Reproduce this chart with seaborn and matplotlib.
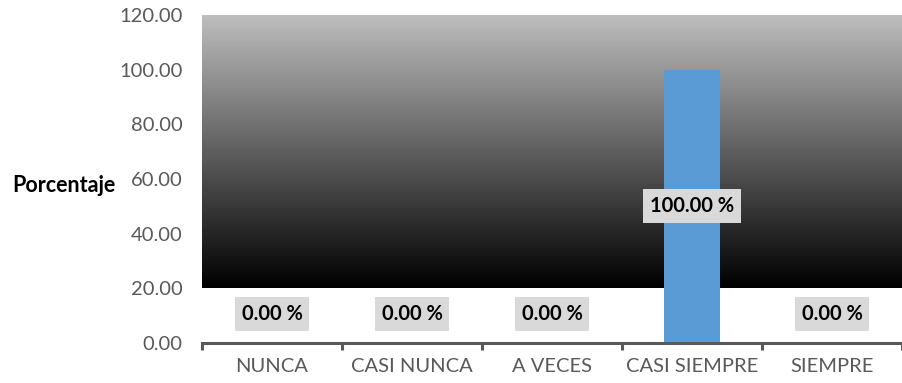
import numpy as np
import pandas as pd
import matplotlib
matplotlib.use("Agg")
import matplotlib.pyplot as plt
from matplotlib.colors import LinearSegmentedColormap
import seaborn as sns

categorias = ["NUNCA", "CASI NUNCA", "A VECES", "CASI SIEMPRE", "SIEMPRE"]
porcentajes = [0.0, 0.0, 0.0, 100.0, 0.0]
ticks_y = [0, 20, 40, 60, 80, 100, 120]

sns.set_theme(style="white")
plt.rcParams["font.family"] = ["Lato", "DejaVu Sans"]

df = pd.DataFrame({"categoria": categorias, "porcentaje": porcentajes})

fig = plt.figure(figsize=(9.03, 3.83), dpi=100)
ax = fig.add_axes([202 / 903, 1 - 343 / 383, 700 / 903, 328 / 383])
ax.set_facecolor("white")

sns.barplot(data=df, x="categoria", y="porcentaje", color="#5B9BD5",
            width=0.4, saturation=1, linewidth=0, ax=ax, zorder=3)

# gradient backdrop from 20 up to 120
grad = np.linspace(0, 1, 256).reshape(-1, 1)
cmap = LinearSegmentedColormap.from_list("fondo", ["#000000", "#BEBEBE"])
ax.imshow(grad, cmap=cmap, origin="lower", aspect="auto",
          extent=[-0.5, 4.5, 20, 120], zorder=0)

ax.set_xlim(-0.5, 4.5)
ax.set_ylim(0, 120)
ax.set_yticks(ticks_y)
ax.set_yticklabels([f"{t:.2f}" for t in ticks_y])

for s in ["left", "top", "right"]:
    ax.spines[s].set_visible(False)
ax.spines["bottom"].set_color("#595959")
ax.spines["bottom"].set_linewidth(2.2)
ax.spines["bottom"].set_zorder(4)

ax.tick_params(axis="y", length=0, pad=14, labelsize=14.5, labelcolor="#595959")
ax.tick_params(axis="x", which="major", length=0, pad=11, labelsize=14.5,
               labelcolor="#595959")
ax.set_xticks(np.arange(-0.5, 5.0, 1.0), minor=True)
ax.tick_params(axis="x", which="minor", direction="out", length=5,
               width=2.2, color="#595959", bottom=True)

ax.set_xlabel("")
ax.set_ylabel("Porcentaje", rotation=0, fontsize=15.5, fontweight="bold",
              color="black", ha="right", va="center")
ax.yaxis.set_label_coords(-0.124, 0.48)

for i, v in enumerate(porcentajes):
    if v > 0:
        y, off = v / 2, 0
    else:
        y, off = v, 21
    ax.annotate(f"{v:.2f} %", xy=(i, y), xytext=(0, off),
                textcoords="offset points", ha="center", va="center",
                fontsize=14.5, fontweight="bold", color="black", zorder=5,
                bbox=dict(boxstyle="square,pad=0.35", fc="#D9D9D9", ec="none"))

fig.savefig("out.png", dpi=100)
